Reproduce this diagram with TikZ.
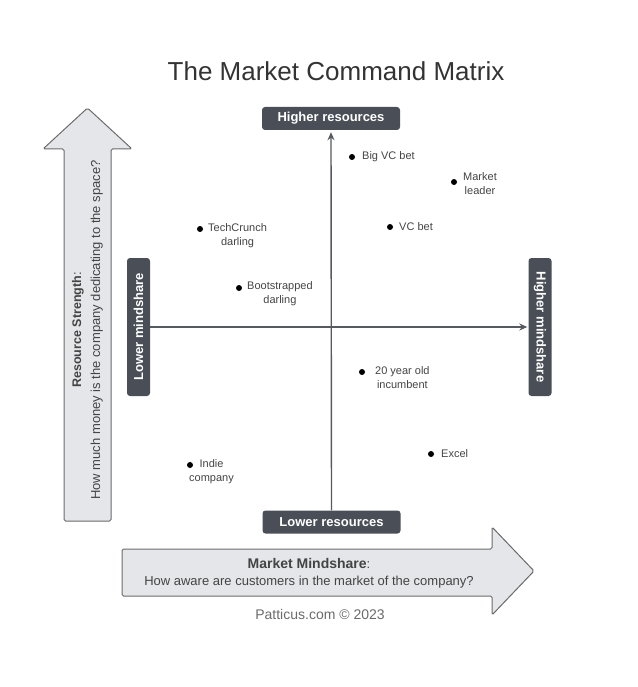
\documentclass[tikz,border=0pt]{standalone}
\usepackage{fontspec}
\setmainfont{Liberation Sans}
\usepackage{tikz}
\usetikzlibrary{arrows.meta}
\definecolor{boxgray}{HTML}{4A4E57}
\definecolor{axisgray}{HTML}{555A60}
\definecolor{arrowfill}{HTML}{E5E6E9}
\definecolor{arrowline}{HTML}{6B6B6B}
\definecolor{labelgray}{HTML}{444444}
\definecolor{titlegray}{HTML}{333333}
\tikzset{
  tagbox/.style={fill=boxgray, rounded corners=3pt, text=white, inner sep=0pt,
    font=\bfseries\fontsize{13}{15}\selectfont, minimum width=138pt, minimum height=23pt},
  pin/.style={circle, fill=black, inner sep=0pt, minimum size=6pt},
  pinlabel/.style={anchor=west, inner sep=0pt, align=center, text=labelgray,
    font=\fontsize{11}{14}\selectfont},
  bigarrow/.style={fill=arrowfill, draw=arrowline, line width=1pt, rounded corners=1.5pt},
  axisline/.style={draw=axisgray, line width=1.4pt, -{Stealth[length=8pt,width=7pt]}}
}

\begin{document}
\begin{tikzpicture}[x=1pt,y=-1pt]
\useasboundingbox (0,0) rectangle (637,687);

\node[text=titlegray, font=\fontsize{26}{30}\selectfont] (title) at (336,71) {The Market Command Matrix};

\draw[bigarrow] (64,521) -- (64,149) -- (43,149) -- (87.5,108) -- (132,149) -- (111,149) -- (111,521) -- cycle;
\node[rotate=90, align=center, text=labelgray, font=\fontsize{13}{19}\selectfont] (resstr) at (87.5,330)
  {{\bfseries\fontsize{12.5}{19}\selectfont Resource Strength}:\\How much money is the company dedicating to the space?};

\draw[bigarrow] (122,549) -- (492,549) -- (492,527) -- (534,571) -- (492,615) -- (492,596) -- (122,596) -- cycle;
\node[align=center, text=labelgray, font=\fontsize{13}{17}\selectfont] (mindsh) at (309,573)
  {{\bfseries\fontsize{14}{17}\selectfont Market Mindshare}:\\How aware are customers in the market of the company?};

\node[text=arrowline, font=\fontsize{14}{17}\selectfont] (credit) at (320,614) {Patticus.com © 2023};

\node[tagbox] (highres) at (331,118.5) {Higher resources};
\node[tagbox] (lowres) at (331.5,522) {Lower resources};
\node[tagbox, rotate=90] (lowmind) at (138.5,327) {Lower mindshare};
\node[tagbox, rotate=-90] (highmind) at (540,327) {Higher mindshare};

\draw[axisline] (lowres.north) -- ([yshift=-2pt]highres.south);
\draw[axisline] (lowmind.south) -- ([xshift=-1pt]highmind.south);

\node[pin] (bigvc) at (352,157) {};
\node[pinlabel] (bigvct) at (362,157) {Big VC bet};
\node[pin] (mlead) at (454,182) {};
\node[pinlabel] (mleadt) at (463,184) {Market\\leader};
\node[pin] (vcbet) at (390,227) {};
\node[pinlabel] (vcbett) at (399,227) {VC bet};
\node[pin] (techc) at (200,229) {};
\node[pinlabel] (techct) at (208,236) {TechCrunch\\darling};
\node[pin] (boots) at (239,288) {};
\node[pinlabel] (bootst) at (247,294) {Bootstrapped\\darling};
\node[pin] (incumb) at (362,372) {};
\node[pinlabel] (incumbt) at (375,378) {20 year old\\incumbent};
\node[pin] (excel) at (431,454) {};
\node[pinlabel] (excelt) at (441,454) {Excel};
\node[pin] (indie) at (190,465) {};
\node[pinlabel] (indiet) at (189,472) {Indie\\company};
\end{tikzpicture}
\end{document}
